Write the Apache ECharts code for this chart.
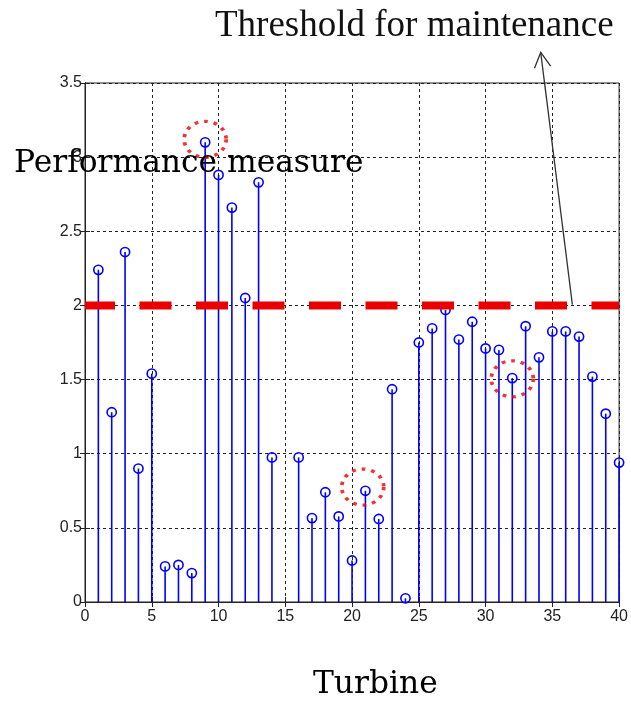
<!DOCTYPE html>
<html>
<head>
<meta charset="utf-8">
<script src="https://cdn.jsdelivr.net/npm/echarts@6/dist/echarts.min.js"></script>
<style>html,body{margin:0;padding:0;background:#fff;}#c{width:631px;height:705px;}</style>
</head>
<body>
<div id="c"></div>
<script>
// ---- data ----
var turbines = [1,2,3,4,5,6,7,8,9,10,11,12,13,14,16,17,18,19,20,21,22,23,24,25,26,27,28,29,30,31,32,33,34,35,36,37,38,39,40];
var performance = [2.24,1.28,2.36,0.90,1.54,0.24,0.25,0.195,3.10,2.88,2.66,2.05,2.83,0.975,0.975,0.566,0.74,0.577,0.28,0.75,0.56,1.435,0.025,1.75,1.845,1.97,1.77,1.89,1.71,1.70,1.51,1.86,1.65,1.825,1.825,1.79,1.52,1.27,0.94];
var threshold = 2;
var highlighted = [[9,3.12],[20.8,0.775],[32,1.505]];
var arrowTailTip = [[36.5,2.005,34.13,3.706]];
var xTicks = {min:0, max:40, interval:5};
var yTicks = {min:0, max:3.5, interval:0.5};
var texts = {ylabel:'Performance measure', xlabel:'Turbine', note:'Threshold for maintenance'};
// ---- chart ----
var chart = echarts.init(document.getElementById('c'), null, {renderer:'canvas'});
var stemData = turbines.map(function(t,i){return [t, performance[i]];});
var gridLine = {show:true, lineStyle:{color:'#222', width:1, type:[3,3]}};
var labelStyle = {color:'#222', fontFamily:'Liberation Sans', fontSize:16};
chart.setOption({
  animation:false,
  backgroundColor:'#fff',
  grid:{left:85, right:8, top:83, bottom:103, show:true, borderColor:'#222', borderWidth:1, containLabel:false},
  xAxis:[
    {type:'value', min:xTicks.min, max:xTicks.max, interval:xTicks.interval, position:'bottom',
     axisLine:{show:true, lineStyle:{color:'#222', width:1}}, axisTick:{show:true, inside:true, length:5, lineStyle:{color:'#222'}},
     axisLabel:Object.assign({margin:7}, labelStyle), splitLine:gridLine},
    {type:'value', min:xTicks.min, max:xTicks.max, interval:xTicks.interval, position:'top',
     axisLine:{show:true, lineStyle:{color:'#222'}}, axisTick:{show:true, inside:true, length:5, lineStyle:{color:'#222'}},
     axisLabel:{show:false}, splitLine:{show:false}}
  ],
  yAxis:[
    {type:'value', min:yTicks.min, max:yTicks.max, interval:yTicks.interval, position:'left',
     axisLine:{show:true, lineStyle:{color:'#222', width:1}}, axisTick:{show:true, inside:true, length:5, lineStyle:{color:'#222'}},
     axisLabel:Object.assign({margin:3}, labelStyle), splitLine:gridLine},
    {type:'value', min:yTicks.min, max:yTicks.max, interval:yTicks.interval, position:'right',
     axisLine:{show:true, lineStyle:{color:'#222'}}, axisTick:{show:true, inside:true, length:5, lineStyle:{color:'#222'}},
     axisLabel:{show:false}, splitLine:{show:false}}
  ],
  series:[
    {type:'custom', name:'stems', xAxisIndex:0, yAxisIndex:0, data:stemData, z:3,
     renderItem:function(params, api){
       var x = api.value(0), y = api.value(1);
       var p0 = api.coord([x,0]), p1 = api.coord([x,y]);
       return {type:'group', children:[
         {type:'line', shape:{x1:p0[0], y1:p0[1], x2:p1[0], y2:p1[1]}, style:{stroke:'#0000ff', lineWidth:1.6}},
         {type:'circle', shape:{cx:p1[0], cy:p1[1], r:4.6}, style:{stroke:'#0000ff', lineWidth:1.6, fill:null}}
       ]};
     }},
    {type:'line', name:'threshold', data:[[xTicks.min,threshold],[xTicks.max,threshold]], symbol:'none', z:4,
     lineStyle:{color:'#e80000', width:8, type:[32,24.5], dashOffset:2}},
    {type:'scatter', name:'highlight', data:highlighted, symbol:'circle', symbolSize:[42,36], z:6,
     itemStyle:{color:'rgba(0,0,0,0)', borderColor:'#ee0000', borderWidth:3.5, borderType:[3.5,5.5]}},
    {type:'custom', name:'arrow', data:arrowTailTip, z:7, clip:false,
     renderItem:function(params, api){
       var a = api.coord([api.value(0), api.value(1)]);
       var b = api.coord([api.value(2), api.value(3)]);
       var ang = Math.atan2(a[1]-b[1], a[0]-b[0]);
       var L = 17, sp = 0.5;
       var l = [b[0]+L*Math.cos(ang+sp), b[1]+L*Math.sin(ang+sp)];
       var r = [b[0]+L*Math.cos(ang-sp), b[1]+L*Math.sin(ang-sp)];
       return {type:'group', children:[
         {type:'line', shape:{x1:a[0],y1:a[1],x2:b[0],y2:b[1]}, style:{stroke:'#333', lineWidth:1.3}},
         {type:'polyline', shape:{points:[l,b,r]}, style:{stroke:'#333', lineWidth:1.3, fill:null}}
       ]};
     }}
  ],
  graphic:[
    {type:'text', left:14, top:148, z:100, style:{text:texts.ylabel, fontFamily:'DejaVu Serif', fontSize:31.3, fill:'#000'}},
    {type:'text', left:313, top:669, z:100, style:{text:texts.xlabel, fontFamily:'DejaVu Serif', fontSize:31.3, fill:'#000'}},
    {type:'text', left:215, top:8, z:100, style:{text:texts.note, fontFamily:'Liberation Serif', fontSize:37, fill:'#111'}}
  ]
});
</script>
</body>
</html>
